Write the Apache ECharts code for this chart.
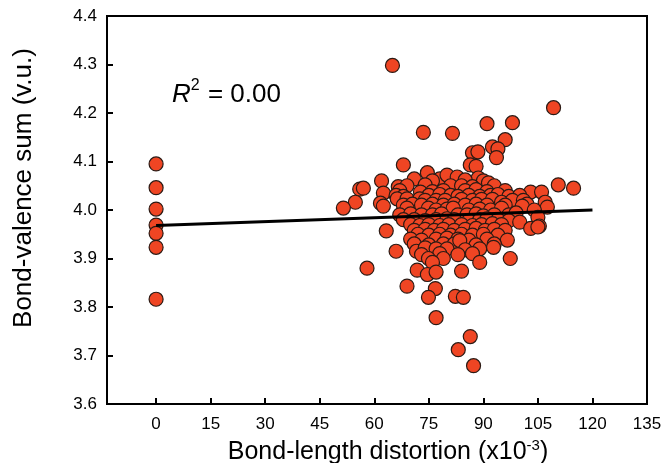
<!DOCTYPE html>
<html><head><meta charset="utf-8">
<script src="https://cdn.jsdelivr.net/npm/echarts@6/dist/echarts.min.js"></script>
<style>html,body{margin:0;padding:0;background:#fff}#c{width:664px;height:463px}</style>
</head><body><div id="c"></div>
<script>
// x = bond-length distortion (x10^-3), y = bond-valence sum (v.u.)
const zeroGroup = [[0,4.095],[0,4.046],[0,4.002],[0,3.969],[0,3.952],[0,3.923],[0,3.816]];
const upperPoints = [[65,4.298],[109.3,4.211],[91,4.178],[98,4.18],[73.5,4.16],[81.5,4.158],[96,4.145],[92.5,4.13],[94,4.126],[87,4.118],[88.5,4.12],[93.6,4.108],[68,4.093],[86.4,4.093],[88,4.09],[74.6,4.077]];
const clusterHigh = [
 [62,4.06],[71,4.064],[78,4.064],[80,4.072],[82.8,4.068],[88.6,4.066],[85,4.062],[90,4.06],[76,4.06],
 [66.6,4.048],[69,4.05],[81,4.05],[91.4,4.056],[110.6,4.052],[74,4.052],[84,4.05],[87,4.048],[93,4.05],
 [56,4.043],[57,4.045],[62.5,4.035],[72.7,4.037],[76,4.038],[79,4.04],[85,4.04],[88,4.042],[91,4.038],[96,4.04],[103,4.037],[106,4.037],[114.8,4.045],[67,4.04],
 [66,4.03],[68,4.028],[75,4.03],[78,4.032],[81,4.03],[83,4.028],[86,4.03],[89,4.028],[92,4.03],[94,4.032],[97,4.028],[100,4.03],
 [66.3,4.023],[69,4.023],[72.5,4.023],[74,4.02],[77,4.02],[79.5,4.02],[84,4.022],[87,4.02],[89.5,4.022],[92.5,4.022],[95,4.016],[98,4.02],[101,4.02],[107,4.016],
 [54.8,4.016],[61.7,4.014],[68,4.01],[70.5,4.012],[73,4.01],[76,4.012],[79,4.01],[82,4.012],[85,4.01],[88,4.012],[91,4.01],[96,4.01],[102,4.012],[107.6,4.006]
];
const clusterMid = [
 [51.5,4.004],[62.5,4.008],[69,4.004],[74.9,4.004],[77,4.0],[80,4.002],[81.7,4.004],[86,4.0],[89,4.002],[92,4.0],[95,4.004],[100.7,4.008],[104,4.0],
 [67,3.99],[70,3.992],[73,3.99],[76,3.99],[78.5,3.992],[83,3.99],[85.5,3.99],[88,3.992],[90,3.988],[93,3.99],[97,3.99],[99,3.994],
 [68,3.98],[71,3.98],[74,3.978],[77,3.98],[80,3.982],[82,3.98],[86,3.978],[89,3.98],[91,3.982],[94,3.98],[97,3.978],[105,3.985],
 [70,3.97],[72.5,3.968],[75,3.97],[78,3.968],[80.5,3.97],[84,3.97],[87,3.968],[89.5,3.97],[92.5,3.972],[95,3.97],[100,3.975],[105.4,3.967],
 [63.3,3.957],[71,3.958],[74,3.96],[76.5,3.958],[79,3.96],[82,3.958],[85,3.96],[88,3.962],[90.5,3.958],[93,3.96],[96,3.958],[103,3.962],[105,3.965]
];
const clusterLow = [
 [72,3.95],[75,3.948],[78,3.95],[81,3.948],[84,3.95],[87,3.948],[90,3.95],[94,3.948],
 [70,3.94],[73,3.938],[77,3.94],[80,3.942],[83,3.94],[86,3.938],[91,3.94],[96.6,3.938],
 [71,3.93],[75,3.928],[79,3.93],[82,3.93],[88,3.928],[93,3.93],[83.5,3.937],
 [66,3.915],[71.6,3.915],[74,3.922],[77,3.92],[80,3.92],[85,3.918],[89,3.92],[92.8,3.923],
 [73,3.908],[78,3.91],[83,3.908],[87,3.91],
 [74.9,3.9],[79,3.9],[97.4,3.9],[76,3.892],[89,3.892],
 [58,3.88],[71.8,3.876],[84,3.874],[74.6,3.867],[77,3.872]
];
const lowerPoints = [[69,3.843],[76.8,3.838],[74.9,3.82],[82.3,3.822],[84.5,3.82],[77,3.778],[86.4,3.739],[83.1,3.712],[87.3,3.679]];
const fitX = [0, 120];
const fitY = [3.968, 4.000];
const xTicks = [0,15,30,45,60,75,90,105,120,135];
const rSquared = '0.00';

const allPoints = zeroGroup.concat(upperPoints, clusterHigh, clusterMid, clusterLow, lowerPoints);
const fitLine = fitX.map((x, i) => [x, fitY[i]]);
const FONT = '"Liberation Sans", Arial, Helvetica, sans-serif';

const chart = echarts.init(document.getElementById('c'), null, {renderer: 'canvas'});
chart.setOption({
  animation: false,
  backgroundColor: '#fff',
  textStyle: {fontFamily: FONT, color: '#000'},
  grid: {left: 107, right: 17, top: 16, bottom: 59, show: true, borderColor: '#000', borderWidth: 2,
         containLabel: false, outerBoundsMode: 'none'},
  xAxis: {
    type: 'value', min: -13.5, max: 135,
    axisLine: {onZero: false, lineStyle: {color: '#000', width: 2}},
    axisTick: {inside: true, length: 6, customValues: xTicks, lineStyle: {color: '#000', width: 2}},
    axisLabel: {customValues: xTicks, fontSize: 17, color: '#000', margin: 12, fontFamily: FONT},
    splitLine: {show: false},
    name: 'Bond-length distortion (x10{s|-3})',
    nameLocation: 'middle', nameGap: 33,
    nameTextStyle: {fontSize: 25, color: '#000', fontFamily: FONT, padding: [0, 0, 0, 22],
      rich: {s: {fontSize: 15, color: '#000', fontFamily: FONT, padding: [0, 0, 14, 0]}}}
  },
  yAxis: {
    type: 'value', min: 3.6, max: 4.4, interval: 0.1,
    axisLine: {onZero: false, lineStyle: {color: '#000', width: 2}},
    axisTick: {inside: true, length: 6, lineStyle: {color: '#000', width: 2}},
    axisLabel: {fontSize: 17, color: '#000', margin: 10, fontFamily: FONT, formatter: v => v.toFixed(1)},
    splitLine: {show: false},
    name: 'Bond-valence sum (v.u.)',
    nameLocation: 'middle', nameGap: 70,
    nameTextStyle: {fontSize: 26, color: '#000', fontFamily: FONT, padding: [0, 0, 0, 44]}
  },
  graphic: [{
    type: 'text', left: 172, top: 78, z: 100,
    style: {
      text: '{i|R}{s|2}{n| = ' + rSquared + '}',
      fill: '#000',
      rich: {
        i: {fontSize: 26, fontStyle: 'italic', fontFamily: FONT, fill: '#000'},
        s: {fontSize: 16, fontFamily: FONT, fill: '#000', padding: [0, 1, 18, 0]},
        n: {fontSize: 26, fontFamily: FONT, fill: '#000'}
      }
    }
  }],
  series: [
    {
      type: 'scatter', data: allPoints, symbol: 'circle', symbolSize: 14, z: 2,
      itemStyle: {color: '#EF4523', borderColor: '#2b1a14', borderWidth: 1.2, opacity: 1}
    },
    {
      type: 'line', data: fitLine, symbol: 'none', z: 5,
      lineStyle: {color: '#000', width: 3}
    }
  ]
});
</script>
</body></html>
